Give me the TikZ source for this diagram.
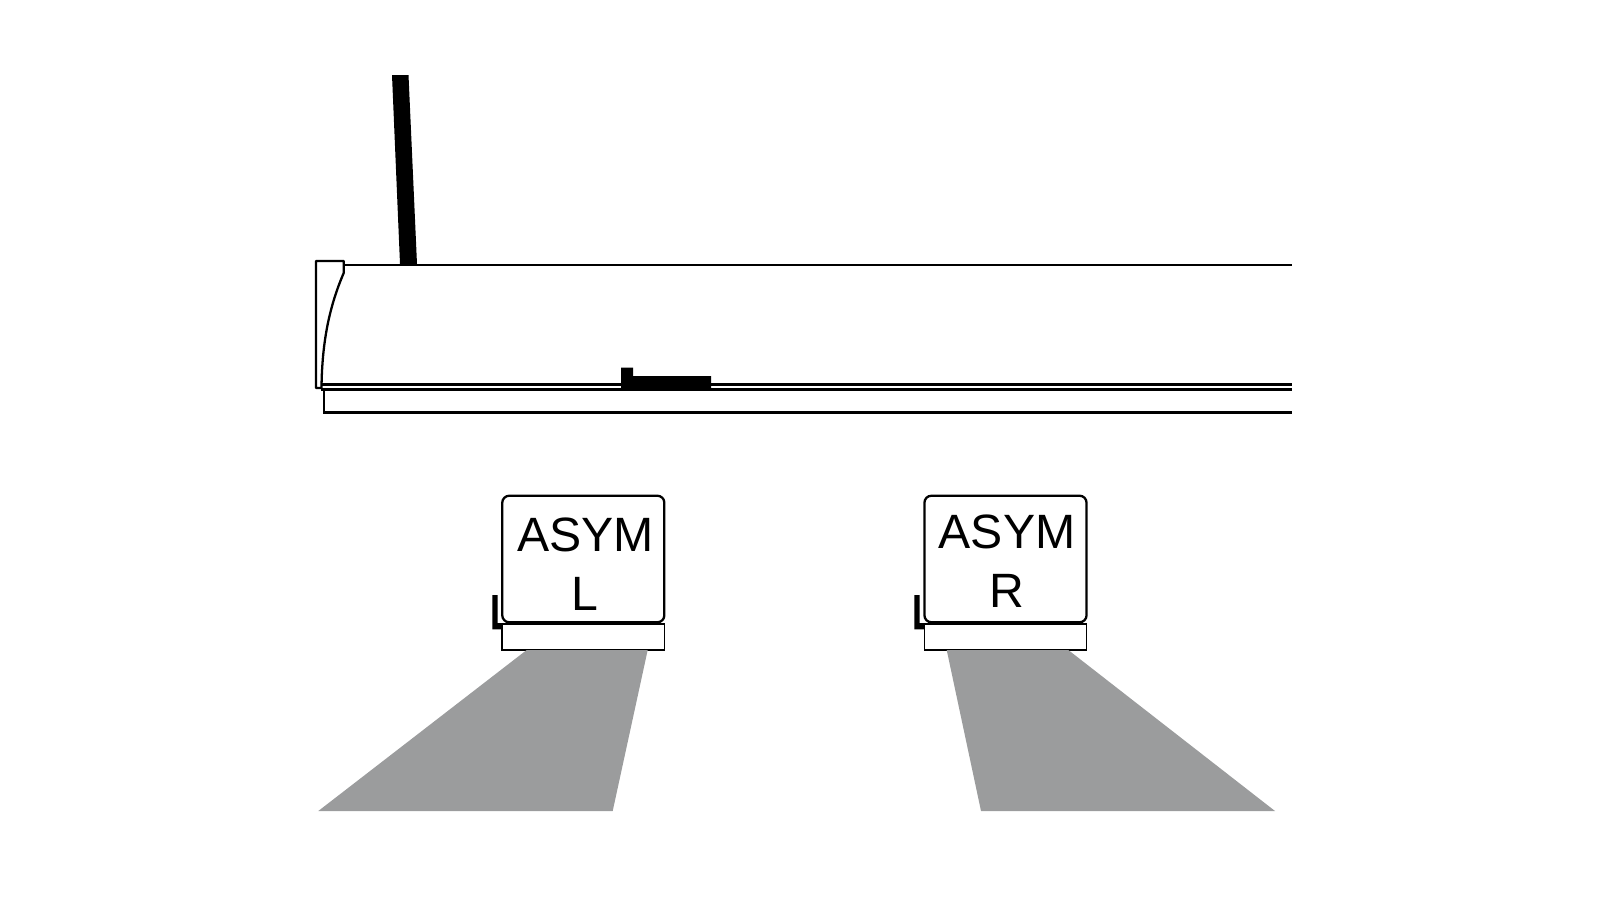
\documentclass[tikz,border=0pt]{standalone}
\usepackage{fontspec}
\setmainfont{Liberation Sans}
\usepackage{tikz}
\usetikzlibrary{positioning}
\definecolor{beamgray}{HTML}{9B9C9D}
\tikzset{
    outline/.style = {draw=black, line width=0.65pt},
    solidpart/.style = {fill=black},
    beam/.style = {fill=beamgray},
    lampbox/.style = {outline, fill=white, rounded corners=0.07cm, minimum width=1.62cm, minimum height=1.265cm, inner sep=0pt},
    lampbase/.style = {outline, fill=white, minimum width=1.62cm, minimum height=0.26cm, inner sep=0pt, line width=0.45pt},
    lamptext/.style = {align=center, inner sep=0pt, font=\fontsize{13.7pt}{16.6pt}\selectfont}
}

\begin{document}
\begin{tikzpicture}[x=0.01cm, y=-0.01cm]
    \useasboundingbox (0,0) rectangle (1600,900);
    % mast and rail
    \fill[solidpart] (392,75) -- (408.5,75) -- (417,264) -- (400,264) -- cycle;
    \draw[outline] (343,265) -- (1292,265);
    \draw[outline] (321,384.5) -- (1292,384.5);
    \draw[outline] (321,389.5) -- (1292,389.5);
    \draw[outline] (324,389.5) -- (324,412.5) -- (1292,412.5);
    \draw[outline, line join=round] (316,261) -- (343.7,261) -- (343.7,273)
        .. controls (330,305) and (322,340) .. (321.5,388) -- (316,388) -- cycle;
    \fill[solidpart] (621,367.5) -- (633,367.5) -- (633,376) -- (711,376) -- (711,389.5) -- (621,389.5) -- cycle;
    % left lamp
    \node[lampbox] (boxL) at (583.3,559) {};
    \node[lampbase, below=0pt of boxL] (baseL) {};
    \node[lamptext, anchor=base] (textL) at (585.3,610) {ASYM\\L};
    \fill[solidpart] (492.3,595) -- (497.7,595) -- (497.7,623) -- (502.3,623) -- (502.3,629.3) -- (492.3,629.3) -- cycle;
    \fill[beam] (526.7,650) -- (647.7,650) -- (612.7,811) -- (318.3,811) -- cycle;
    % right lamp
    \node[lampbox] (boxR) at (1005.5,559) {};
    \node[lampbase, below=0pt of boxR] (baseR) {};
    \node[lamptext, anchor=base] (textR) at (1007,607) {ASYM\\R};
    \fill[solidpart] (914.3,595) -- (919.5,595) -- (919.5,623) -- (924.3,623) -- (924.3,629.3) -- (914.3,629.3) -- cycle;
    \fill[beam] (946.7,650) -- (1068.3,650) -- (1275,811) -- (981,811) -- cycle;
\end{tikzpicture}
\end{document}
